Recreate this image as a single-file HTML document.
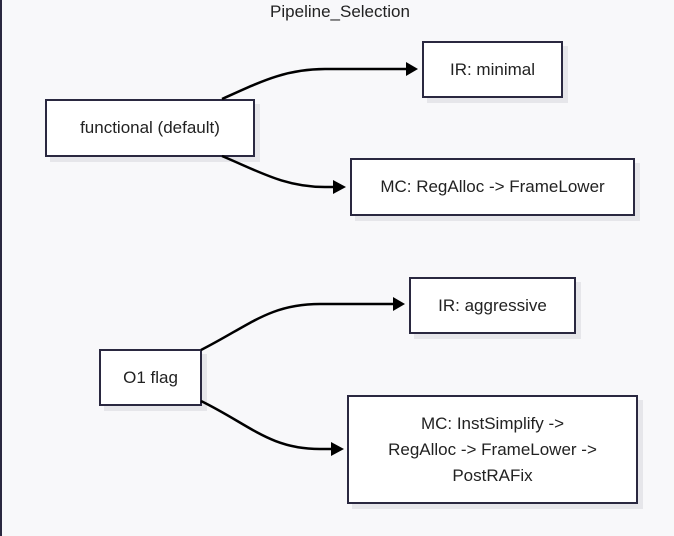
<!DOCTYPE html>
<html><head><meta charset="utf-8"><style>
html,body{margin:0;padding:0;}
body{width:674px;height:536px;background:#f8f8fa;position:relative;overflow:hidden;font-family:"Liberation Sans",sans-serif;}
.b{position:absolute;background:#fff;border:2px solid #2a2840;box-sizing:border-box;box-shadow:5px 5px 0 #e6e6ea;display:flex;align-items:center;justify-content:center;text-align:center;font-size:17px;color:#222;line-height:26px;}
</style></head><body>
<div style="position:absolute;left:0;top:0;width:2px;height:536px;background:#2a2840"></div>
<div style="position:absolute;left:0;width:680px;top:2px;text-align:center;font-size:17px;color:#222">Pipeline_Selection</div>
<div class="b" style="left:45px;top:99px;width:210px;height:58px">functional (default)</div>
<div class="b" style="left:422px;top:41px;width:141px;height:57px">IR: minimal</div>
<div class="b" style="left:350px;top:158px;width:285px;height:58px">MC: RegAlloc -&gt; FrameLower</div>
<div class="b" style="left:409px;top:277px;width:167px;height:57px">IR: aggressive</div>
<div class="b" style="left:99px;top:349px;width:103px;height:57px">O1 flag</div>
<div class="b" style="left:347px;top:395px;width:291px;height:109px">MC: InstSimplify -&gt;<br>RegAlloc -&gt; FrameLower -&gt;<br>PostRAFix</div>
<svg width="674" height="536" style="position:absolute;left:0;top:0" fill="none" stroke="#000" stroke-width="2.5">
<path d="M222,99 C260,82 285,69 325,69 L406,69"/>
<path d="M222,156 C260,172 285,187 325,187 L334,187"/>
<path d="M201,350 C250,325 270,304 320,304 L393,304"/>
<path d="M201,401 C250,425 270,449 320,449 L331,449"/>
<g fill="#000" stroke="none">
<polygon points="406,62 418,69 406,76"/>
<polygon points="333,180 346,187 333,194"/>
<polygon points="393,297 405,304 393,311"/>
<polygon points="331,442 344,449 331,456"/>
</g>
</svg>
</body></html>
